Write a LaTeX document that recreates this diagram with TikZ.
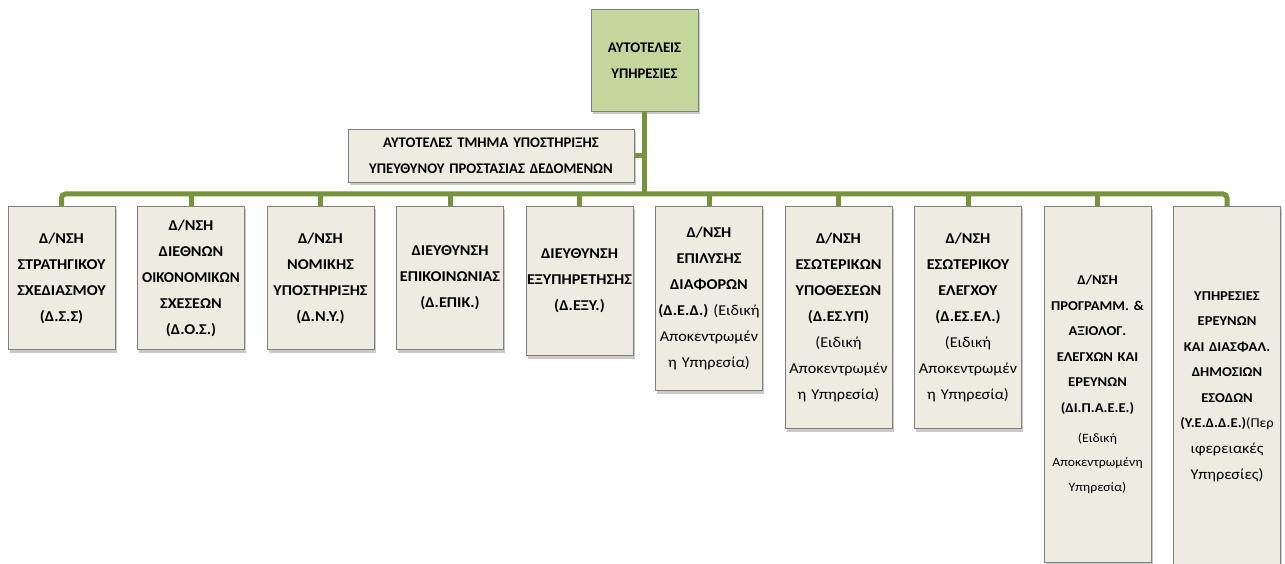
\documentclass[tikz,border=0pt]{standalone}
\usepackage{fontspec}
\setmainfont{Carlito}
\newfontfamily\widefont{Carlito}[FakeStretch=1.08]
\usepackage{tikz}
\usetikzlibrary{shadows}

\definecolor{lineGreen}{HTML}{77933C}
\definecolor{boxFill}{HTML}{EEECE1}
\definecolor{topFill}{HTML}{C3D69B}
\definecolor{boxBorder}{HTML}{7F7F7F}

\newcommand{\fitline}[1]{\makebox[\linewidth]{#1}}

\begin{document}
\begin{tikzpicture}[x=1pt,y=-1pt,
	unit/.style={rectangle,draw=boxBorder,line width=1pt,fill=boxFill,
		text width=105pt,inner sep=1pt,align=center,anchor=north,
		font=\bfseries\fontsize{14.7}{26}\selectfont,
		drop shadow={shadow xshift=1.5pt,shadow yshift=-3pt,opacity=0.3,fill=black!70}},
	dept/.style={unit,font=\widefont\bfseries\fontsize{15}{26}\selectfont},
	narrow/.style={font=\widefont\bfseries\fontsize{13.5}{25.5}\selectfont},
	link/.style={draw=lineGreen,line width=5pt}]

	\useasboundingbox (0,0) rectangle (1285,564);
	\clip (0,0) rectangle (1285,564);

	\def\colsep{129.5}
	\def\rowtop{206}

	% head and side unit
	\node[unit,fill=topFill,minimum height=102pt] (head) at (644.5,9)
		{ΑΥΤΟΤΕΛΕΙΣ\\ΥΠΗΡΕΣΙΕΣ};
	\node[unit,minimum height=53pt,text width=284pt] (dpo) at (491,129)
		{ΑΥΤΟΤΕΛΕΣ ΤΜΗΜΑ ΥΠΟΣΤΗΡΙΞΗΣ\\ΥΠΕΥΘΥΝΟΥ ΠΡΟΣΤΑΣΙΑΣ ΔΕΔΟΜΕΝΩΝ};

	% directorates
	\node[dept,minimum height=143pt] (b1) at (61.5,\rowtop)
		{Δ/ΝΣΗ\\ΣΤΡΑΤΗΓΙΚΟΥ\\ΣΧΕΔΙΑΣΜΟΥ\\(Δ.Σ.Σ)};
	\node[dept,minimum height=143pt] (b2) at (61.5+\colsep,\rowtop)
		{Δ/ΝΣΗ\\ΔΙΕΘΝΩΝ\\\fitline{\scalebox{0.93}[1]{ΟΙΚΟΝΟΜΙΚΩΝ}}\\ΣΧΕΣΕΩΝ\\(Δ.Ο.Σ.)};
	\node[dept,minimum height=143pt] (b3) at (61.5+2*\colsep,\rowtop)
		{Δ/ΝΣΗ\\ΝΟΜΙΚΗΣ\\\fitline{ΥΠΟΣΤΗΡΙΞΗΣ}\\(Δ.Ν.Υ.)};
	\node[dept,minimum height=143pt] (b4) at (61.5+3*\colsep,\rowtop)
		{ΔΙΕΥΘΥΝΣΗ\\\fitline{ΕΠΙΚΟΙΝΩΝΙΑΣ}\\(Δ.ΕΠΙΚ.)};
	\node[dept,minimum height=149pt] (b5) at (61.5+4*\colsep,\rowtop)
		{ΔΙΕΥΘΥΝΣΗ\\\fitline{ΕΞΥΠΗΡΕΤΗΣΗΣ}\\(Δ.ΕΞΥ.)};
	\node[dept,minimum height=184pt] (b6) at (61.5+5*\colsep,\rowtop)
		{Δ/ΝΣΗ\\ΕΠΙΛΥΣΗΣ\\ΔΙΑΦΟΡΩΝ\\\fitline{(Δ.Ε.Δ.) {\mdseries(Ειδική}}\\
		{\mdseries Αποκεντρωμέν}\\{\mdseries η Υπηρεσία)}};
	\node[dept,minimum height=222pt] (b7) at (61.5+6*\colsep,\rowtop)
		{Δ/ΝΣΗ\\\fitline{ΕΣΩΤΕΡΙΚΩΝ}\\ΥΠΟΘΕΣΕΩΝ\\(Δ.ΕΣ.ΥΠ)\\{\mdseries(Ειδική}\\
		{\mdseries Αποκεντρωμέν}\\{\mdseries η Υπηρεσία)}};
	\node[dept,minimum height=222pt] (b8) at (61.5+7*\colsep,\rowtop)
		{Δ/ΝΣΗ\\\fitline{ΕΣΩΤΕΡΙΚΟΥ}\\ΕΛΕΓΧΟΥ\\(Δ.ΕΣ.ΕΛ.)\\{\mdseries(Ειδική}\\
		{\mdseries Αποκεντρωμέν}\\{\mdseries η Υπηρεσία)}};
	\node[dept,narrow,minimum height=356pt] (b9) at (61.5+8*\colsep,\rowtop)
		{Δ/ΝΣΗ\\ΠΡΟΓΡΑΜΜ. \&\\ΑΞΙΟΛΟΓ.\\ΕΛΕΓΧΩΝ ΚΑΙ\\ΕΡΕΥΝΩΝ\\(ΔΙ.Π.Α.Ε.Ε.)\\[6pt]
		{\mdseries\fontsize{12.7}{24}\selectfont(Ειδική\\\fitline{Αποκεντρωμένη}\\Υπηρεσία)}};
	\node[dept,narrow,minimum height=360pt] (b10) at (61.5+9*\colsep,\rowtop)
		{ΥΠΗΡΕΣΙΕΣ\\ΕΡΕΥΝΩΝ\\\fitline{ΚΑΙ ΔΙΑΣΦΑΛ.}\\ΔΗΜΟΣΙΩΝ\\ΕΣΟΔΩΝ\\\fitline{(Υ.Ε.Δ.Δ.Ε.){\mdseries(Περ}}\\
		{\mdseries\fontsize{15}{26}\selectfont ιφερειακές\\Υπηρεσίες)}};

	% connectors
	\coordinate (bus) at (645,194);
	\draw[link] (head.south) -- (head.south |- bus);
	\draw[link] (dpo.east) -- (dpo.east -| head.south);
	\draw[link,rounded corners=4pt] (b1.north) -- (b1.north |- bus) -- (b10.north |- bus) -- (b10.north);
	\foreach \i in {2,...,9}
		\draw[link] (b\i.north) -- (b\i.north |- bus);

\end{tikzpicture}
\end{document}
